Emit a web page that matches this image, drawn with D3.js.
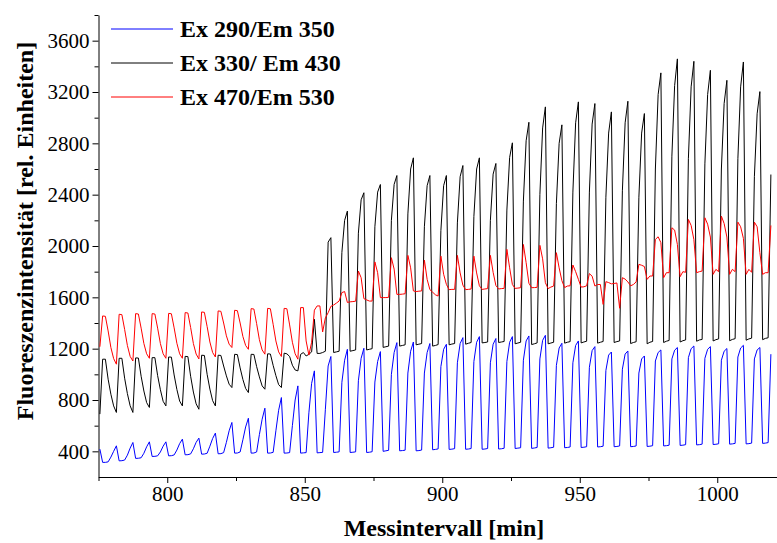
<!DOCTYPE html>
<html><head><meta charset="utf-8">
<script src="https://cdn.jsdelivr.net/npm/d3@7"></script>
<style>body{margin:0;background:#fff}svg{display:block}</style>
</head><body>
<svg id="chart" width="777" height="543"></svg>
<script>
const seriesNames = ["Ex 290/Em 350", "Ex 330/ Em 430", "Ex 470/Em 530"];
const seriesColors = ["#0000ff", "#000000", "#ff0000"];
const startMinute = 775.5;   // first sample time [min]
const stepMinute = 1;        // sampling interval [min]

const blueValues = [
417,
314,314,318,355,400,443,
326,327,332,370,425,469,
345,346,350,385,435,474,
360,361,365,395,440,474,
365,366,372,410,460,495,
373,374,380,420,470,503,
378,379,385,440,500,542,
381,382,390,470,560,625,
386,387,395,490,590,658,
386,387,395,530,650,736,
386,387,392,560,720,819,
386,387,390,600,800,910,
386,388,390,700,930,1027,
388,390,392,728,1065,1139,
391,393,396,938,1110,1195,
391,393,396,950,1125,1203,
391,393,397,940,1100,1177,
400,404,408,1000,1170,1247,
404,406,409,1010,1180,1252,
404,406,410,1010,1170,1240,
412,415,419,1060,1195,1234,
415,417,421,1090,1240,1286,
416,418,422,1100,1250,1294,
416,418,422,1090,1235,1279,
418,420,424,1100,1250,1294,
422,425,428,1110,1260,1299,
423,426,430,1120,1265,1304,
425,428,432,1070,1205,1242,
428,430,434,1090,1225,1260,
430,432,436,1055,1185,1216,
434,436,440,1030,1150,1174,
436,438,442,1040,1158,1182,
436,438,442,1010,1120,1143,
438,440,444,1104,1170,1190,
442,444,448,1120,1188,1209,
446,448,452,1130,1200,1221,
450,452,456,1125,1195,1216,
453,455,459,1110,1180,1201,
456,458,462,1135,1205,1226,
458,460,464,1120,1190,1209,
462,464,468,1157
];

const blackValues = [
690,
1118,1118,962,845,754,703,
1125,1125,970,850,755,703,
1128,1127,985,870,780,742,
1130,1130,990,880,790,754,
1135,1134,995,882,792,754,
1140,1138,985,862,770,728,
1149,1147,1000,885,795,754,
1149,1147,1065,988,923,897,
1156,1154,1050,960,890,858,
1156,1155,1060,980,910,884,
1160,1158,1070,990,920,897,
1165,1160,1139,1071,1034,1027,
1156,1170,1143,1156,1175,1429,
1163,1163,1170,1180,2030,2065,
1170,1175,1180,1950,2200,2272,
1180,1185,1190,2100,2360,2415,
1190,1195,1200,2150,2420,2479,
1210,1215,1220,2200,2480,2549,
1220,1225,1230,2250,2600,2687,
1230,1235,1240,2150,2470,2549,
1220,1225,1232,2120,2470,2549,
1230,1236,1240,2180,2540,2627,
1235,1242,1248,2230,2600,2687,
1245,1248,1252,2200,2560,2643,
1248,1252,1256,2280,2690,2804,
1238,1244,1250,2350,2820,2964,
1232,1238,1245,2400,2920,3084,
1238,1244,1250,2330,2800,2944,
1243,1250,1255,2420,2960,3123,
1245,1252,1258,2420,2950,3110,
1243,1250,1256,2380,2880,3045,
1248,1255,1260,2430,2960,3128,
1240,1248,1254,2380,2880,3032,
1238,1250,1256,2600,3180,3349,
1248,1258,1264,2700,3250,3458,
1252,1262,1268,2680,3240,3439,
1258,1268,1272,2640,3180,3369,
1260,1270,1276,2600,3110,3291,
1262,1272,1278,2680,3240,3434,
1266,1276,1282,2540,3030,3203,
1270,1280,1285,2557
];

const redValues = [
1215,
1455,1452,1338,1209,1123,1079,
1468,1465,1350,1225,1140,1104,
1473,1470,1360,1240,1160,1125,
1473,1470,1360,1240,1160,1125,
1475,1472,1362,1242,1160,1125,
1481,1478,1365,1240,1158,1120,
1486,1483,1372,1252,1170,1135,
1494,1491,1400,1300,1235,1209,
1499,1496,1400,1295,1225,1195,
1512,1509,1395,1270,1190,1157,
1514,1511,1390,1260,1175,1139,
1514,1511,1385,1250,1160,1118,
1520,1520,1260,1150,1250,1500,
1533,1533,1330,1440,1480,1530,
1540,1555,1571,1637,1645,1560,
1565,1567,1570,1805,1753,1590,
1580,1571,1571,1876,1792,1598,
1598,1598,1600,1909,1820,1623,
1623,1625,1628,1927,1830,1650,
1645,1648,1650,1890,1740,1660,
1640,1620,1610,1921,1780,1701,
1660,1662,1662,1927,1790,1695,
1660,1662,1665,1921,1790,1690,
1662,1665,1668,1927,1795,1692,
1665,1668,1670,1974,1830,1700,
1670,1672,1675,2012,1870,1710,
1675,1676,1678,2005,1900,1714,
1668,1680,1688,1948,1830,1730,
1676,1688,1690,1852,1800,1740,
1680,1682,1690,1785,1765,1688,
1700,1700,1545,1722,1715,1705,
1708,1712,1515,1753,1742,1720,
1690,1700,1720,1857,1850,1840,
1740,1766,1766,2051,2072,2026,
1753,1792,1792,2142,2124,2012,
1761,1800,1795,2207,2160,2050,
1792,1800,1805,2220,2170,2070,
1779,1818,1800,2233,2175,2070,
1779,1818,1800,2186,2150,2060,
1779,1818,1795,2186,2150,1948,
1779,1792,1792,2160
];

const xTickValues = [800, 850, 900, 950, 1000];
const xMinorTickValues = [775, 825, 875, 925, 975];
const yTickValues = [400, 800, 1200, 1600, 2000, 2400, 2800, 3200, 3600];
const yMinorTickValues = [600, 1000, 1400, 1800, 2200, 2600, 3000, 3400, 3800];
const xTitle = "Messintervall [min]";
const yTitle = "Fluoreszenzintensität [rel. Einheiten]";

const svg = d3.select("#chart");
const x = d3.scaleLinear().domain([775, 1022]).range([98.5, 777.75]);
const y = d3.scaleLinear().domain([200, 3800]).range([477, 15]);
const font = "'Liberation Serif', 'Times New Roman', serif";
const fmt = d3.format("d");

// axes
svg.append("g").attr("transform", `translate(0,${y(200)})`)
  .call(d3.axisBottom(x).tickValues(xTickValues).tickFormat(fmt).tickSize(6).tickSizeOuter(0).tickPadding(3));
svg.append("g").attr("transform", `translate(0,${y(200)})`)
  .call(d3.axisBottom(x).tickValues(xMinorTickValues).tickSize(4).tickFormat("")).select(".domain").remove();
svg.append("g").attr("transform", `translate(${x(775)},0)`)
  .call(d3.axisLeft(y).tickValues(yTickValues).tickFormat(fmt).tickSize(6).tickSizeOuter(0).tickPadding(3));
svg.append("g").attr("transform", `translate(${x(775)},0)`)
  .call(d3.axisLeft(y).tickValues(yMinorTickValues).tickSize(4).tickFormat("")).select(".domain").remove();
svg.selectAll("g").attr("font-family", null).attr("font-size", null);
svg.selectAll(".tick text").style("font-family", font).style("font-size", "21px").attr("fill", "#000");
svg.selectAll(".domain, .tick line").attr("stroke", "#000");

// series
const allSeries = [blueValues, blackValues, redValues];
const line = d3.line()
  .x((d, i) => x(startMinute + i * stepMinute))
  .y(d => y(d));
allSeries.forEach((vals, s) => {
  svg.append("path").datum(vals)
    .attr("fill", "none").attr("stroke", seriesColors[s])
    .attr("stroke-width", 1).attr("stroke-linejoin", "round")
    .attr("d", line);
});

// legend
const legendY = [29, 63, 97];
seriesNames.forEach((name, s) => {
  svg.append("line").attr("x1", 111).attr("x2", 173)
    .attr("y1", legendY[s]).attr("y2", legendY[s])
    .attr("stroke", seriesColors[s]).attr("stroke-width", 1);
  svg.append("text").attr("x", 180).attr("y", legendY[s] + 8)
    .style("font-family", font).style("font-weight", "bold").style("font-size", "24px")
    .attr("fill", "#000").text(name);
});

// titles
svg.append("text").attr("x", 444).attr("y", 536).attr("text-anchor", "middle")
  .style("font-family", font).style("font-weight", "bold").style("font-size", "24px").text(xTitle);
svg.append("text").attr("transform", "translate(33,231) rotate(-90)").attr("text-anchor", "middle")
  .style("font-family", font).style("font-weight", "bold").style("font-size", "24px").text(yTitle);
</script>
</body></html>
